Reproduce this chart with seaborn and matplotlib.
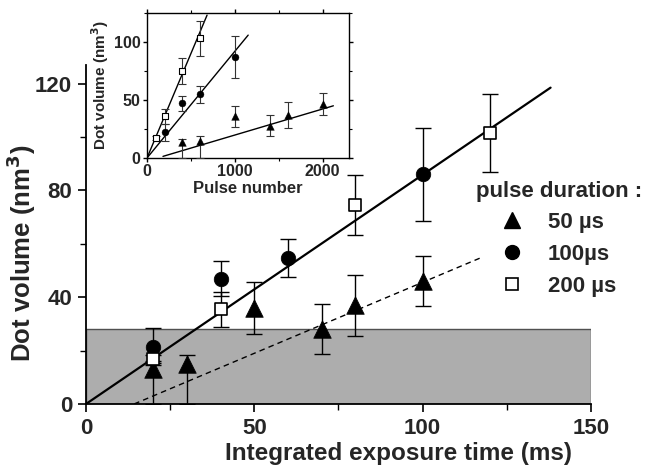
import matplotlib
matplotlib.use('Agg')
import matplotlib.pyplot as plt
from matplotlib.lines import Line2D
from matplotlib.ticker import MultipleLocator
import seaborn as sns
import pandas as pd

sns.set_theme(style='ticks')
plt.rcParams['font.family'] = ['Liberation Sans', 'DejaVu Sans']
plt.rcParams['font.weight'] = 'bold'
plt.rcParams['axes.labelweight'] = 'bold'

# ---------------- main panel data (integrated exposure time, ms) ----------------
t50 = [20, 30, 50, 70, 80, 100]
v50 = [13, 15, 36, 28, 37, 46]
e50_lo = [13, 15, 9.8, 9.4, 11.4, 9.4]
e50_hi = [3, 3.5, 9.8, 9.4, 11.4, 9.4]

t100 = [20, 40, 60, 100]
v100 = [21.5, 47, 54.7, 86]
e100 = [6.9, 6.7, 7.1, 17.5]

t200 = [20, 40, 80, 120]
v200 = [16.7, 35.4, 74.5, 101.5]
e200 = [1.5, 6.4, 11.2, 14.5]

fit_solid_t = [0, 138]
fit_solid_v = [0, 118.5]
fit_dash_t = [14.3, 117.7]
fit_dash_v = [0, 55]
shade_top = 28

# ---------------- inset data (pulse number) ----------------
p50 = [400, 600, 1000, 1400, 1600, 2000]
iv50 = [13.4, 14.3, 35.7, 27.7, 37.1, 46.3]
ie50_lo = [13.4, 14.3, 9.3, 9, 11, 9.3]
ie50_hi = [3, 4.3, 9.3, 9, 11, 9.3]

p100 = [200, 400, 600, 1000]
iv100 = [22, 47.1, 54.9, 86.6]
ie100 = [7, 6.6, 7.2, 18]

p200 = [100, 200, 400, 600]
iv200 = [17.1, 35.7, 74.9, 102.9]
ie200 = [1.5, 6.4, 11.3, 15]

ifit200_p = [0, 684]
ifit200_v = [0, 122.9]
ifit100_p = [0, 1152]
ifit100_v = [0, 105.7]
ifit50_p = [182, 2122]
ifit50_v = [1.4, 44.9]

legend_labels = ['50 µs', '100µs', '200 µs']

fig = plt.figure(figsize=(6.47, 4.68), dpi=100)
ax = fig.add_axes([0.1329, 0.1368, 0.7805, 0.7244])

# shaded region
ax.axhspan(0, shade_top, xmin=0, xmax=1, facecolor='#adadad', edgecolor='#505050', lw=1.0, zorder=0)

# fit lines
sns.lineplot(x=fit_solid_t, y=fit_solid_v, ax=ax, color='black', lw=1.6, zorder=2)
sns.lineplot(x=fit_dash_t, y=fit_dash_v, ax=ax, color='black', lw=1.0, linestyle=(0, (4, 3)), zorder=2)

# error bars
ekw = dict(fmt='none', ecolor='black', elinewidth=1.0, capsize=6, capthick=1.0, zorder=3)
ax.errorbar(t50, v50, yerr=[e50_lo, e50_hi], **ekw)
ax.errorbar(t100, v100, yerr=e100, **ekw)
ax.errorbar(t200, v200, yerr=e200, **ekw)

# markers
sns.scatterplot(x=t50, y=v50, ax=ax, marker='^', s=160, color='black', edgecolor='black', linewidth=0.5, zorder=4)
sns.scatterplot(x=t100, y=v100, ax=ax, marker='o', s=110, color='black', edgecolor='black', linewidth=0.5, zorder=4)
sns.scatterplot(x=t200, y=v200, ax=ax, marker='s', s=85, color='white', edgecolor='black', linewidth=1.2, zorder=4)

ax.set_xlim(0, 150)
ax.set_ylim(0, 127)
ax.xaxis.set_major_locator(MultipleLocator(50))
ax.xaxis.set_minor_locator(MultipleLocator(25))
ax.yaxis.set_major_locator(MultipleLocator(40))
ax.yaxis.set_minor_locator(MultipleLocator(20))
ax.tick_params(which='major', direction='out', length=6, width=1.2, labelsize=16, pad=4, color='black')
ax.tick_params(which='minor', direction='out', length=4, width=1.0, color='black')
for lab in ax.get_xticklabels() + ax.get_yticklabels():
    lab.set_fontweight('bold')
sns.despine(ax=ax)
for sp in ['left', 'bottom']:
    ax.spines[sp].set_linewidth(1.3)
    ax.spines[sp].set_color('black')

ax.set_xlabel('Integrated exposure time (ms)', fontsize=17.5, fontweight='bold')
ax.set_ylabel('Dot volume (nm$^\\mathbf{3}$)', fontsize=18.5, fontweight='bold')
ax.xaxis.set_label_coords(0.618, -0.112)
ax.yaxis.set_label_coords(-0.095, 0.445)

# legend
handles = [
    Line2D([], [], linestyle='none', marker='^', markersize=12, color='black'),
    Line2D([], [], linestyle='none', marker='o', markersize=10, color='black'),
    Line2D([], [], linestyle='none', marker='s', markersize=9, markerfacecolor='white',
           markeredgecolor='black', markeredgewidth=1.2),
]
leg = ax.legend(handles, legend_labels, title='pulse duration :', loc='upper left',
                bbox_to_anchor=(0.718, 0.638), bbox_transform=fig.transFigure,
                frameon=False, prop={'size': 16, 'weight': 'bold'},
                title_fontproperties={'size': 16, 'weight': 'bold'},
                handlelength=1.0, handletextpad=1.1, labelspacing=0.48, borderpad=0)

# ---------------- inset ----------------
axi = fig.add_axes([0.2272, 0.6624, 0.3122, 0.3105])
axi.set_facecolor('white')
sns.lineplot(x=ifit200_p, y=ifit200_v, ax=axi, color='black', lw=1.0)
sns.lineplot(x=ifit100_p, y=ifit100_v, ax=axi, color='black', lw=1.0)
sns.lineplot(x=ifit50_p, y=ifit50_v, ax=axi, color='black', lw=1.0)
ikw = dict(fmt='none', ecolor='#333333', elinewidth=0.8, capsize=3, capthick=0.8, zorder=3)
axi.errorbar(p50, iv50, yerr=[ie50_lo, ie50_hi], **ikw)
axi.errorbar(p100, iv100, yerr=ie100, **ikw)
axi.errorbar(p200, iv200, yerr=ie200, **ikw)
sns.scatterplot(x=p50, y=iv50, ax=axi, marker='^', s=30, color='black', edgecolor='black', linewidth=0.3, zorder=4)
sns.scatterplot(x=p100, y=iv100, ax=axi, marker='o', s=25, color='black', edgecolor='black', linewidth=0.3, zorder=4)
sns.scatterplot(x=p200, y=iv200, ax=axi, marker='s', s=22, color='white', edgecolor='black', linewidth=0.8, zorder=4)
axi.set_xlim(0, 2300)
axi.set_ylim(0, 125)
axi.xaxis.set_major_locator(MultipleLocator(1000))
axi.xaxis.set_minor_locator(MultipleLocator(500))
axi.yaxis.set_major_locator(MultipleLocator(50))
axi.yaxis.set_minor_locator(MultipleLocator(25))
axi.tick_params(which='major', direction='out', length=3, width=1.0, labelsize=11.5, pad=1.5, color='black')
axi.tick_params(which='minor', direction='out', length=2, width=0.8, color='black')
axi.tick_params(which='both', top=True, right=True)
for lab in axi.get_xticklabels() + axi.get_yticklabels():
    lab.set_fontweight('bold')
for sp in axi.spines.values():
    sp.set_linewidth(1.0)
    sp.set_color('black')
axi.set_xlabel('Pulse number', fontsize=12, fontweight='bold', labelpad=1)
axi.set_ylabel('Dot volume (nm$^\\mathbf{3}$)', fontsize=11, fontweight='bold', labelpad=2)

fig.savefig('out.png', dpi=100)
